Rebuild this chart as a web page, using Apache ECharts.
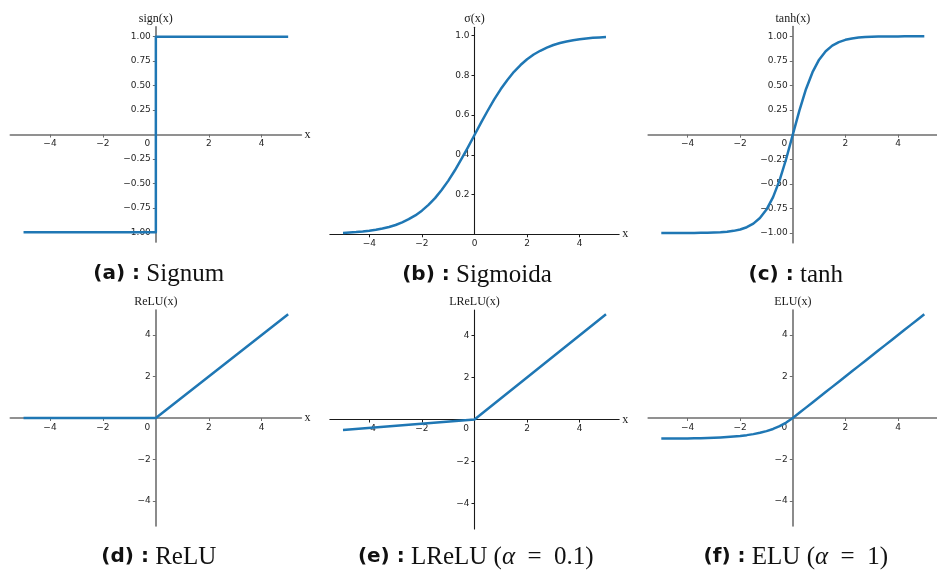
<!DOCTYPE html>
<html>
<head>
<meta charset="utf-8">
<script src="https://cdn.jsdelivr.net/npm/echarts@6/dist/echarts.min.js"></script>
<style>html,body{margin:0;padding:0;background:#fff}#c{width:937px;height:571px}</style>
</head>
<body>
<div id="c"></div>
<script>
// ---- data ----
const xs = [-5,-4.75,-4.5,-4.25,-4,-3.75,-3.5,-3.25,-3,-2.75,-2.5,-2.25,-2,-1.75,-1.5,-1.25,-1,-0.75,-0.5,-0.25,0,
            0.25,0.5,0.75,1,1.25,1.5,1.75,2,2.25,2.5,2.75,3,3.25,3.5,3.75,4,4.25,4.5,4.75,5];
const signX = [-5, 0, 0, 5];
const signY = [-1, -1, 1, 1];
const sigmoidY = [0.007,0.009,0.011,0.014,0.018,0.023,0.029,0.037,0.047,0.060,0.076,0.095,0.119,0.148,0.182,0.223,0.269,0.321,0.378,0.438,0.500,
                  0.562,0.622,0.679,0.731,0.777,0.818,0.852,0.881,0.905,0.924,0.940,0.953,0.963,0.971,0.977,0.982,0.986,0.989,0.991,0.993];
const tanhY = [-1.000,-1.000,-1.000,-1.000,-0.999,-0.999,-0.998,-0.997,-0.995,-0.992,-0.987,-0.978,-0.964,-0.941,-0.905,-0.848,-0.762,-0.635,-0.462,-0.245,0,
               0.245,0.462,0.635,0.762,0.848,0.905,0.941,0.964,0.978,0.987,0.992,0.995,0.997,0.998,0.999,0.999,1.000,1.000,1.000,1.000];
const reluX = [-5, 0, 5];
const reluY = [0, 0, 5];
const lreluX = [-5, 0, 5];
const lreluY = [-0.5, 0, 5];
const eluY = [-0.993,-0.991,-0.989,-0.986,-0.982,-0.977,-0.970,-0.961,-0.950,-0.936,-0.918,-0.895,-0.865,-0.826,-0.777,-0.713,-0.632,-0.528,-0.393,-0.221,0,
              0.25,0.5,0.75,1,1.25,1.5,1.75,2,2.25,2.5,2.75,3,3.25,3.5,3.75,4,4.25,4.5,4.75,5];
const xTicks = [-4, -2, 0, 2, 4];
const yTicksTanh = [1, 0.75, 0.5, 0.25, -0.25, -0.5, -0.75, -1];
const yTicksSig = [0.2, 0.4, 0.6, 0.8, 1.0];
const yTicksRelu = [4, 2, -2, -4];
const yNames = ['sign(x)', 'σ(x)', 'tanh(x)', 'ReLU(x)', 'LReLU(x)', 'ELU(x)'];
const capLetters = ['(a)', '(b)', '(c)', '(d)', '(e)', '(f)'];
const capNames = ['Signum', 'Sigmoida', 'tanh', 'ReLU', 'LReLU', 'ELU'];
const capParams = ['', '', '', '', '0.1', '1'];

// ---- layout ----
const XR = [-5.5, 5.5];
const G = [
  {l:10.3,   t:26.9,  w:291.1, h:215.2, y:[-1.1,1.1],   yt:yTicksTanh, dec:2, shift:true,  ac:'#6e6e6e', aw:1.6},
  {l:329.85, t:27.2,  w:289.3, h:207.1, y:[0,1.0426],   yt:yTicksSig,  dec:1, shift:false, ac:'#1a1a1a', aw:1.1},
  {l:648.15, t:26.45, w:289.3, h:216.4, y:[-1.1,1.1],   yt:yTicksTanh, dec:2, shift:true,  ac:'#6e6e6e', aw:1.6},
  {l:10.3,   t:310.1, w:291.1, h:215.8, y:[-5.2,5.2],   yt:yTicksRelu, dec:0, shift:true,  ac:'#6e6e6e', aw:1.6},
  {l:329.85, t:310.1, w:289.3, h:218.8, y:[-5.2,5.2],   yt:yTicksRelu, dec:0, shift:true,  ac:'#1a1a1a', aw:1.1},
  {l:648.15, t:310.1, w:289.3, h:215.8, y:[-5.2,5.2],   yt:yTicksRelu, dec:0, shift:true,  ac:'#6e6e6e', aw:1.6}
];
const capPos = [[158.7,274],[477,275],[795.8,275],[158.8,557],[475.8,557],[795.8,557]];

function fmt(v, dec) { const s = Math.abs(v).toFixed(dec); return (v < 0 ? '\u2212' : '') + s; }
const tickFont = {fontFamily: 'DejaVu Sans', fontSize: 9, color: '#262626'};
const nameFont = {fontFamily: 'Liberation Serif', fontSize: 12, color: '#1a1a1a'};

const grid = [], xAxis = [], yAxis = [], series = [], graphic = [];
G.forEach((g, i) => {
  // move axes to the origin through offsets (axes cross at zero)
  const yOff = -((0 - XR[0]) / (XR[1] - XR[0])) * g.w;
  const xOff = -((0 - g.y[0]) / (g.y[1] - g.y[0])) * g.h;
  grid.push({left: g.l, top: g.t, width: g.w, height: g.h, containLabel: false, outerBoundsMode: 'none'});
  xAxis.push({
    type: 'value', gridIndex: i, min: XR[0], max: XR[1], position: 'bottom', offset: xOff,
    name: 'x', nameLocation: 'end', nameGap: 3, nameTextStyle: nameFont,
    axisLine: {show: true, onZero: false, lineStyle: {color: g.ac, width: g.aw}},
    axisTick: {show: true, length: 3, customValues: [-4, -2, 2, 4], lineStyle: {color: g.ac, width: 1}},
    axisLabel: Object.assign({}, tickFont, {
      margin: 5, customValues: xTicks,
      formatter: v => (v === 0 ? (g.shift ? '{z|0}' : '0') : fmt(v, 0)),
      rich: {z: Object.assign({}, tickFont, {padding: [0, 17, 0, 0]})}
    }),
    splitLine: {show: false}
  });
  yAxis.push({
    type: 'value', gridIndex: i, min: g.y[0], max: g.y[1], position: 'left', offset: yOff,
    name: yNames[i], nameLocation: 'end', nameGap: 2, nameTextStyle: Object.assign({}, nameFont, {align: 'center'}),
    axisLine: {show: true, onZero: false, lineStyle: {color: g.ac, width: g.aw}},
    axisTick: {show: true, length: 3, customValues: g.yt, lineStyle: {color: g.ac, width: 1}},
    axisLabel: Object.assign({}, tickFont, {margin: 5, customValues: g.yt, formatter: v => fmt(v, g.dec)}),
    splitLine: {show: false}
  });
});

const lineStyle = {color: '#1f77b4', width: 2.5, cap: 'butt', join: 'round'};
function addSeries(i, X, Y) {
  series.push({
    type: 'line', xAxisIndex: i, yAxisIndex: i, showSymbol: false, symbol: 'none',
    smooth: false, lineStyle: lineStyle, data: X.map((x, k) => [x, Y[k]]), clip: false, z: 3
  });
}
addSeries(0, signX, signY);
addSeries(1, xs, sigmoidY);
addSeries(2, xs, tanhY);
addSeries(3, reluX, reluY);
addSeries(4, lreluX, lreluY);
addSeries(5, xs, eluY);

const rich = {
  b: {fontFamily: 'DejaVu Sans', fontWeight: 'bold', fontSize: 20, fill: '#111', color: '#111'},
  r: {fontFamily: 'Liberation Serif', fontSize: 25, fill: '#111', color: '#111'},
  i: {fontFamily: 'Liberation Serif', fontStyle: 'italic', fontSize: 25, fill: '#111', color: '#111'}
};
capPos.forEach((p, i) => {
  let t = '{b|' + capLetters[i] + ' :} {r|' + capNames[i] + '}';
  if (capParams[i]) t += '{r| (}{i|α}{r|  =  ' + capParams[i] + ')}';
  graphic.push({
    type: 'text', x: p[0], y: p[1],
    style: {text: t, rich: rich, textAlign: 'center', textVerticalAlign: 'middle', align: 'center', verticalAlign: 'middle',
            font: '25px "Liberation Serif"', fill: '#111'}
  });
});

const chart = echarts.init(document.getElementById('c'), null, {renderer: 'canvas'});
chart.setOption({animation: false, backgroundColor: '#fff', grid, xAxis, yAxis, series, graphic});
</script>
</body>
</html>
